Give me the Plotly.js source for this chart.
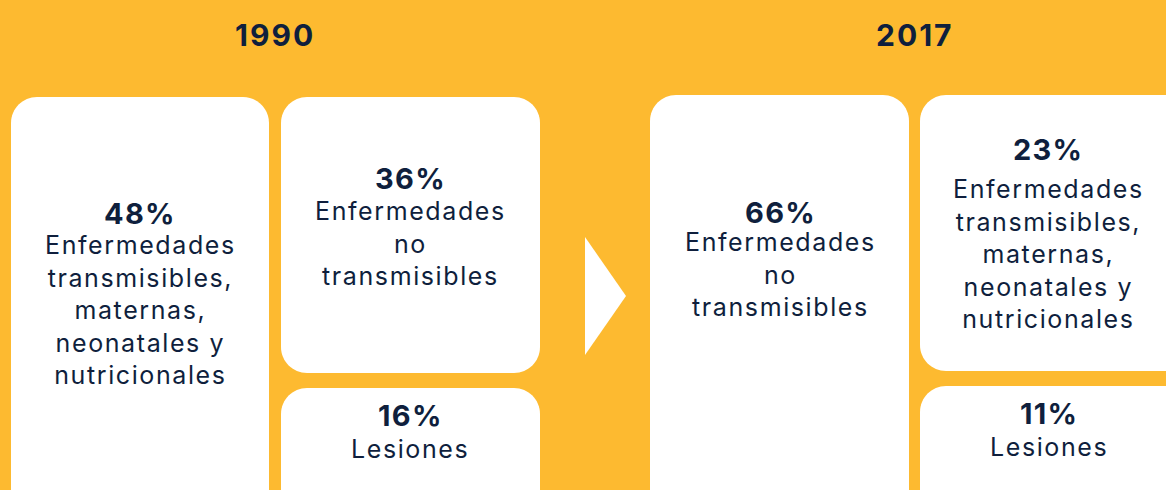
<!DOCTYPE html>
<html>
<head>
<meta charset="utf-8">
<script src="https://cdn.plot.ly/plotly-3.0.1.min.js"></script>
<style>html,body{margin:0;padding:0;background:#FDBA30;}#chart{width:1166px;height:490px;}</style>
</head>
<body>
<div id="chart"></div>
<script>
// ---- Data ----
const years = ['1990', '2017'];
const pct1990 = [48, 36, 16];
const labels1990 = [
  'Enfermedades<br>transmisibles,<br>maternas,<br>neonatales y<br>nutricionales',
  'Enfermedades<br>no<br>transmisibles',
  'Lesiones'
];
const pct2017 = [66, 23, 11];
const labels2017 = [
  'Enfermedades<br>no<br>transmisibles',
  'Enfermedades<br>transmisibles,<br>maternas,<br>neonatales y<br>nutricionales',
  'Lesiones'
];

// ---- Layout geometry (pixel-like axis units) ----
const W = 1166, H = 490;
const navy = '#0F1F3D';
const bg = '#FDBA30';
const R = 26;

const boxes1990 = [
  {b: [11, 97, 269, 520], cx: 140, py: 213, dy: 310},
  {b: [281, 97, 540, 373], cx: 410, py: 178, dy: 243},
  {b: [281, 388, 540, 520], cx: 410, py: 415, dy: 449}
];
const boxes2017 = [
  {b: [650, 95, 909, 520], cx: 780, py: 212, dy: 274},
  {b: [920, 95, 1200, 371], cx: 1048, py: 149, dy: 254},
  {b: [920, 386, 1200, 520], cx: 1049, py: 413, dy: 447}
];

function roundRect(x0, y0, x1, y1, r) {
  const k = 0.5523 * r;
  return `M ${x0 + r} ${y0} L ${x1 - r} ${y0} ` +
    `C ${x1 - r + k} ${y0} ${x1} ${y0 + r - k} ${x1} ${y0 + r} ` +
    `L ${x1} ${y1 - r} ` +
    `C ${x1} ${y1 - r + k} ${x1 - r + k} ${y1} ${x1 - r} ${y1} ` +
    `L ${x0 + r} ${y1} ` +
    `C ${x0 + r - k} ${y1} ${x0} ${y1 - r + k} ${x0} ${y1 - r} ` +
    `L ${x0} ${y0 + r} ` +
    `C ${x0} ${y0 + r - k} ${x0 + r - k} ${y0} ${x0 + r} ${y0} Z`;
}

function spaced(text, ls) {
  return text.split('<br>').map(t => `<span style="letter-spacing:${ls}px">${t}</span>`).join('<br>');
}

const shapes = [];
const annotations = [];
const font = 'Inter, "Open Sans", sans-serif';

function addGroup(boxes, pcts, labels) {
  boxes.forEach((bx, i) => {
    shapes.push({
      type: 'path', xref: 'x', yref: 'y', layer: 'below',
      path: roundRect(bx.b[0], bx.b[1], bx.b[2], bx.b[3], R),
      fillcolor: '#FFFFFF', line: {width: 0}
    });
    annotations.push({
      x: bx.cx, y: bx.py, xref: 'x', yref: 'y', showarrow: false,
      xanchor: 'center', yanchor: 'middle',
      text: '<b>' + spaced(pcts[i] + '%', 1.3) + '</b>',
      font: {family: font, size: 29, color: navy}
    });
    annotations.push({
      x: bx.cx, y: bx.dy, xref: 'x', yref: 'y', showarrow: false,
      xanchor: 'center', yanchor: 'middle', align: 'center',
      text: spaced(labels[i], 1.6),
      font: {family: font, size: 25, color: navy}
    });
  });
}
addGroup(boxes1990, pct1990, labels1990);
addGroup(boxes2017, pct2017, labels2017);

const yearX = [275, 915];
years.forEach((yr, i) => {
  annotations.push({
    x: yearX[i], y: 35, xref: 'x', yref: 'y', showarrow: false,
    xanchor: 'center', yanchor: 'middle',
    text: '<b>' + spaced(yr, 2) + '</b>',
    font: {family: font, size: 30, color: navy}
  });
});

shapes.push({
  type: 'path', xref: 'x', yref: 'y',
  path: 'M 585 237 L 626 296 L 585 355 Z',
  fillcolor: '#FFFFFF', line: {width: 0}
});

const layout = {
  width: W, height: H,
  margin: {l: 0, r: 0, t: 0, b: 0, pad: 0},
  paper_bgcolor: bg, plot_bgcolor: bg,
  xaxis: {range: [0, W], visible: false, fixedrange: true},
  yaxis: {range: [H, 0], visible: false, fixedrange: true},
  shapes: shapes,
  annotations: annotations,
  showlegend: false
};

Plotly.newPlot('chart', [{x: [0], y: [0], mode: 'markers', marker: {opacity: 0}, hoverinfo: 'skip'}], layout, {displayModeBar: false, staticPlot: true});
</script>
</body>
</html>
